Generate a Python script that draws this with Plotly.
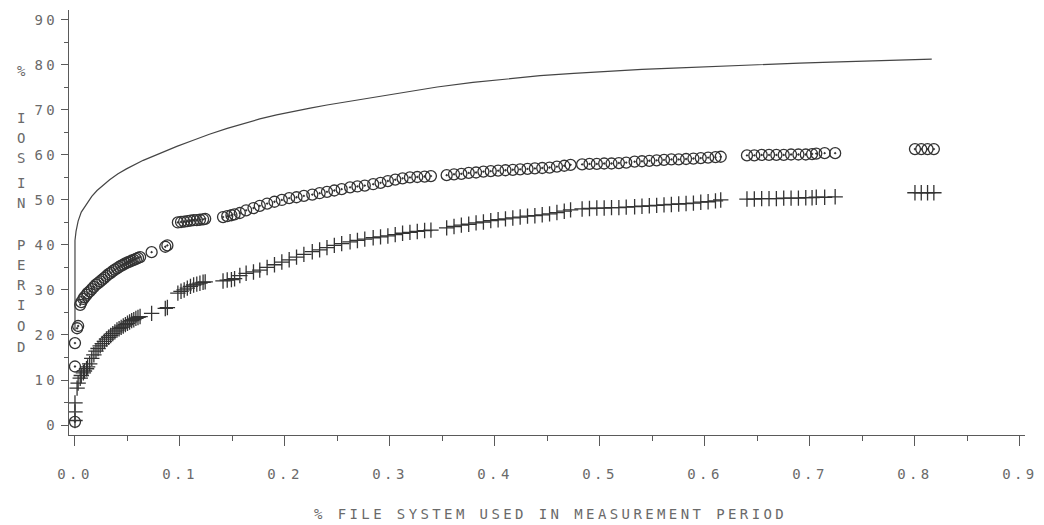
import plotly.graph_objects as go

# ---------------- data ----------------
curve_x = [0, 0, 0.001, 0.003, 0.006, 0.011, 0.016, 0.021, 0.027, 0.033, 0.041, 0.049,
           0.065, 0.081, 0.097, 0.112, 0.128, 0.145, 0.160, 0.176, 0.192, 0.208, 0.224,
           0.240, 0.256, 0.271, 0.290, 0.316, 0.345, 0.379, 0.410, 0.443, 0.475, 0.507,
           0.540, 0.570, 0.600, 0.633, 0.660, 0.690, 0.720, 0.754, 0.785, 0.816]
curve_y = [21.0, 41.0, 43.0, 45.3, 47.3, 49.2, 50.8, 52.1, 53.4, 54.5, 55.8, 56.9,
           58.8, 60.4, 61.9, 63.2, 64.6, 65.9, 67.0, 68.0, 68.9, 69.7, 70.4,
           71.1, 71.7, 72.3, 73.1, 74.1, 75.1, 76.1, 76.9, 77.6, 78.1, 78.6,
           79.0, 79.3, 79.6, 79.9, 80.1, 80.4, 80.6, 80.9, 81.1, 81.3]

pct_fs = [0, 0, 0, 0.002, 0.003, 0.005, 0.006, 0.008, 0.009, 0.011, 0.012, 0.014,
          0.016, 0.018, 0.020, 0.022, 0.024, 0.026, 0.028, 0.030, 0.032, 0.034, 0.036,
          0.038, 0.040, 0.042, 0.044, 0.046, 0.048, 0.050, 0.052, 0.054, 0.056, 0.058,
          0.060, 0.062,
          0.073, 0.086, 0.088,
          0.098, 0.101, 0.104, 0.107, 0.110, 0.113, 0.116, 0.119, 0.122, 0.124,
          0.141, 0.145, 0.149, 0.152,
          0.157, 0.163, 0.170, 0.176, 0.183, 0.190, 0.197, 0.204, 0.211, 0.218, 0.226,
          0.233, 0.240, 0.247, 0.254, 0.262, 0.269, 0.276, 0.284, 0.291, 0.298, 0.305,
          0.312, 0.319, 0.326, 0.333, 0.339,
          0.354, 0.361, 0.368, 0.375, 0.382, 0.389, 0.396, 0.403, 0.410, 0.417, 0.424,
          0.431, 0.438, 0.445, 0.452, 0.459, 0.466, 0.472,
          0.483, 0.490, 0.497, 0.504, 0.511, 0.518, 0.525,
          0.533, 0.540, 0.547, 0.554, 0.561, 0.568, 0.575, 0.582, 0.589, 0.596, 0.603,
          0.610, 0.615,
          0.640, 0.647, 0.654, 0.661, 0.668, 0.675, 0.682, 0.689, 0.696, 0.702, 0.706,
          0.714, 0.724,
          0.800, 0.806, 0.812, 0.818]

ios_circle = [0.7, 13.0, 18.2, 21.5, 22.0, 26.7, 27.3, 28.0, 28.4, 28.9, 29.3, 29.7,
              30.2, 30.7, 31.2, 31.5, 31.9, 32.3, 32.7, 33.1, 33.5, 33.8, 34.2,
              34.5, 34.8, 35.1, 35.4, 35.6, 35.9, 36.1, 36.3, 36.5, 36.7, 36.9,
              37.1, 37.3,
              38.4, 39.6, 39.9,
              45.0, 45.1, 45.2, 45.3, 45.4, 45.5, 45.5, 45.6, 45.7, 45.8,
              46.2, 46.4, 46.6, 46.8,
              47.1, 47.7, 48.2, 48.7, 49.2, 49.6, 50.0, 50.4, 50.6, 50.9, 51.2,
              51.5, 51.8, 52.1, 52.4, 52.8, 53.0, 53.2, 53.5, 53.8, 54.2, 54.5,
              54.8, 55.0, 55.1, 55.2, 55.3,
              55.5, 55.7, 55.8, 56.0, 56.1, 56.3, 56.4, 56.5, 56.6, 56.7, 56.8,
              56.9, 57.0, 57.1, 57.2, 57.4, 57.6, 57.8,
              57.9, 58.0, 58.0, 58.1, 58.1, 58.2, 58.3,
              58.5, 58.6, 58.7, 58.8, 58.9, 59.0, 59.0, 59.1, 59.2, 59.3, 59.4,
              59.5, 59.6,
              59.9, 59.9, 60.0, 60.0, 60.0, 60.0, 60.1, 60.1, 60.1, 60.2, 60.3,
              60.4, 60.4,
              61.3, 61.3, 61.3, 61.3]

ios_cross = [1.0, 2.9, 4.9, 8.2, 9.3, 10.4, 11.0, 11.6, 12.0, 12.5, 12.9, 13.6,
             14.8, 15.6, 16.4, 17.0, 17.6, 18.1, 18.6, 19.1, 19.5, 19.9, 20.3,
             20.7, 21.1, 21.4, 21.7, 22.0, 22.3, 22.6, 22.9, 23.2, 23.4, 23.7,
             23.9, 24.1,
             24.8, 25.9, 26.1,
             29.3, 29.7, 30.0, 30.4, 30.8, 31.1, 31.3, 31.5, 31.7, 31.8,
             32.0, 32.2, 32.3, 32.5,
             33.2, 33.7, 34.0, 34.4, 35.0, 35.6, 36.2, 36.7, 37.3, 37.9, 38.5,
             38.9, 39.4, 39.9, 40.3, 40.7, 41.0, 41.3, 41.6, 41.8, 42.0, 42.3,
             42.6, 42.8, 43.0, 43.2, 43.3,
             43.8, 44.1, 44.4, 44.6, 44.9, 45.1, 45.4, 45.6, 45.8, 46.0, 46.2,
             46.4, 46.5, 46.7, 46.9, 47.2, 47.5, 47.8,
             48.0, 48.1, 48.2, 48.2, 48.3, 48.3, 48.4,
             48.5, 48.6, 48.7, 48.8, 48.9, 49.0, 49.1, 49.2, 49.3, 49.5, 49.6,
             49.8, 50.0,
             50.2, 50.2, 50.3, 50.3, 50.3, 50.4, 50.4, 50.4, 50.5, 50.5, 50.6,
             50.6, 50.7,
             51.6, 51.6, 51.6, 51.6]

x_tick_vals = [0.0, 0.1, 0.2, 0.3, 0.4, 0.5, 0.6, 0.7, 0.8, 0.9]
x_tick_labels = ["0.0", "0.1", "0.2", "0.3", "0.4", "0.5", "0.6", "0.7", "0.8", "0.9"]
y_tick_vals = [0, 10, 20, 30, 40, 50, 60, 70, 80, 90]
y_tick_labels = ["0", "10", "20", "30", "40", "50", "60", "70", "80", "90"]

x_title = "% FILE SYSTEM USED IN MEASUREMENT PERIOD"
y_title_letters = ["%", "I", "O", "S", "I", "N", "P", "E", "R", "I", "O", "D"]

# ---------------- styling ----------------
INK = "#333333"
TXT = "#6a6a6a"
AX = "#5a5a5a"
FONT = "DejaVu Sans Mono"
SPACING = "letter-spacing:3.4px"

def spaced(s):
    return '<span style="%s">%s</span>' % (SPACING, s)

W, H = 1044, 525
L, R, T, B = 69, 19, 10, 90

fig = go.Figure()
fig.add_trace(go.Scatter(x=curve_x, y=curve_y, mode="lines",
                         line=dict(color="#454545", width=1.2),
                         hoverinfo="skip", showlegend=False))
fig.add_trace(go.Scatter(x=pct_fs, y=ios_circle, mode="markers",
                         marker=dict(symbol="circle-open-dot", size=11,
                                     color=INK, line=dict(color=INK, width=1.3)),
                         showlegend=False))
fig.add_trace(go.Scatter(x=pct_fs, y=ios_cross, mode="markers",
                         marker=dict(symbol="cross-thin-open", size=11,
                                     color=INK, line=dict(color=INK, width=1.3)),
                         showlegend=False))

fig.update_layout(
    template="none",
    width=W, height=H,
    margin=dict(l=L, r=R, t=T, b=B, pad=0),
    paper_bgcolor="white", plot_bgcolor="white",
    font=dict(family=FONT, size=14, color=TXT),
    showlegend=False,
)

fig.update_xaxes(
    range=[-0.0057, 0.9048], automargin=False,
    showgrid=False, zeroline=False,
    showline=True, linecolor=AX, linewidth=1,
    ticks="outside", ticklen=10, tickwidth=1, tickcolor=AX,
    tickvals=x_tick_vals, ticktext=[spaced(t) for t in x_tick_labels],
    ticklabelstandoff=16,
    tickfont=dict(family=FONT, size=14, color=TXT),
    minor=dict(ticks="outside", ticklen=5, tickwidth=1, tickcolor=AX, dtick=0.05, tick0=0),
)
fig.update_yaxes(
    range=[-2.22, 92.2], automargin=False,
    showgrid=False, zeroline=False,
    showline=True, linecolor=AX, linewidth=1,
    ticks="outside", ticklen=7, tickwidth=1, tickcolor=AX,
    tickvals=y_tick_vals, ticktext=[spaced(t) for t in y_tick_labels],
    tickfont=dict(family=FONT, size=14, color=TXT),
    minor=dict(ticks="outside", ticklen=4, tickwidth=1, tickcolor=AX, dtick=5, tick0=0),
)

plot_w = W - L - R
plot_h = H - T - B

# x-axis title
fig.add_annotation(text=spaced(x_title), xref="paper", yref="paper",
                   x=(550 - L) / plot_w, y=(T + plot_h - 514) / plot_h,
                   showarrow=False, xanchor="center", yanchor="middle",
                   font=dict(family=FONT, size=14, color=TXT))

# y-axis title (stacked letters)
letter_y_px = [71, 118, 138, 158, 183, 203, 245, 265, 285, 305, 326, 347]
for ch, ypx in zip(y_title_letters, letter_y_px):
    fig.add_annotation(text=ch, xref="paper", yref="paper",
                       x=(21 - L) / plot_w, y=(T + plot_h - ypx) / plot_h,
                       showarrow=False, xanchor="center", yanchor="middle",
                       font=dict(family=FONT, size=14, color=TXT))

fig.write_html("out.html",
               config={"displayModeBar": False},
               post_script="document.body.style.margin='0';document.body.style.overflow='hidden';")
